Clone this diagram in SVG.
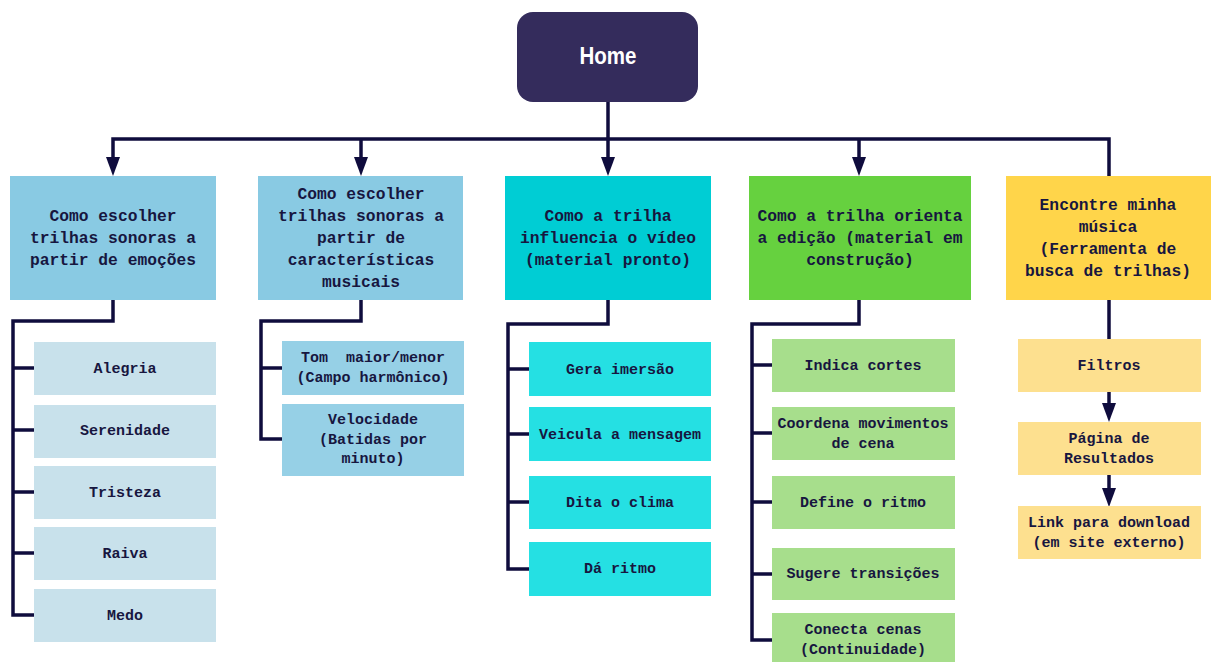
<svg xmlns="http://www.w3.org/2000/svg" width="1211" height="662" viewBox="0 0 1211 662">
<defs>
<marker id="ah" markerUnits="userSpaceOnUse" markerWidth="19" markerHeight="15" refX="0" refY="7" orient="auto">
<path d="M0,0 L19,7 L0,14 z" fill="#0f0c3d"/>
</marker>
<style>
text{font-family:"Liberation Mono","DejaVu Sans Mono",monospace;font-weight:bold;fill:#17163f;text-anchor:middle;white-space:pre}
.t1{font-size:16.3px}
.t2{font-size:15px}
.home{font-family:"Liberation Sans Narrow","Liberation Sans",sans-serif;font-size:24px;fill:#ffffff}
.c{fill:none;stroke:#0f0c3d;stroke-width:3.5;stroke-linejoin:miter}
.a{marker-end:url(#ah)}
.b1{fill:#89cae3}.b3{fill:#00cdd4}.b4{fill:#66d13f}.b5{fill:#ffd54a}
.k1{fill:#c8e1eb}.k2{fill:#96d0e6}.k3{fill:#25e0e3}.k4{fill:#a7de8c}.k5{fill:#fde08f}
</style>
</defs>
<rect width="1211" height="662" fill="#ffffff"/>
<g id="connectors">
<path class="c a" d="M1109,176 V139 H113 V157"/>
<path class="c a" d="M361,139 V157"/>
<path class="c a" d="M608,102 V157"/>
<path class="c a" d="M859,139 V157"/>
<path class="c" d="M113,300 V321 H13 V615 H34 M13,368 H34 M13,430 H34 M13,492 H34 M13,553 H34"/>
<path class="c" d="M361,300 V321 H261 V439 H282 M261,368 H282"/>
<path class="c" d="M608,300 V324 H508 V569 H529 M508,369 H529 M508,434 H529 M508,502 H529"/>
<path class="c" d="M859,300 V324 H752 V640 H772 M752,365 H772 M752,433 H772 M752,502 H772 M752,574 H772"/>
<path class="c" d="M1109,300 V339"/>
<path class="c a" d="M1109,392 V403"/>
<path class="c a" d="M1109,475 V488"/>
</g>
<g id="home">
<rect x="517" y="12" width="181" height="90" rx="16" fill="#342c5c"/>
<text class="home" x="608" y="64" textLength="57" lengthAdjust="spacingAndGlyphs">Home</text>
</g>
<g id="n1">
<rect class="b1" x="10" y="176" width="206" height="124"/>
<text class="t1" x="113"><tspan x="113" y="221">Como escolher</tspan><tspan x="113" y="243">trilhas sonoras a</tspan><tspan x="113" y="265">partir de emoções</tspan></text>
</g>
<g id="n2">
<rect class="b1" x="258" y="176" width="205" height="124"/>
<text class="t1" x="361"><tspan x="361" y="199">Como escolher</tspan><tspan x="361" y="221">trilhas sonoras a</tspan><tspan x="361" y="243">partir de</tspan><tspan x="361" y="265">características</tspan><tspan x="361" y="287">musicais</tspan></text>
</g>
<g id="n3">
<rect class="b3" x="505" y="176" width="206" height="124"/>
<text class="t1" x="608"><tspan x="608" y="221">Como a trilha</tspan><tspan x="608" y="243">influencia o vídeo</tspan><tspan x="608" y="265">(material pronto)</tspan></text>
</g>
<g id="n4">
<rect class="b4" x="749" y="176" width="222" height="124"/>
<text class="t1" x="860"><tspan x="860" y="221">Como a trilha orienta</tspan><tspan x="860" y="243">a edição (material em</tspan><tspan x="860" y="265">construção)</tspan></text>
</g>
<g id="n5">
<rect class="b5" x="1006" y="176" width="205" height="124"/>
<text class="t1" x="1108"><tspan x="1108" y="210">Encontre minha</tspan><tspan x="1108" y="232">música</tspan><tspan x="1108" y="254">(Ferramenta de</tspan><tspan x="1108" y="276">busca de trilhas)</tspan></text>
</g>
<g id="n1a"><rect class="k1" x="34" y="342" width="182" height="53"/><text class="t2" x="125" y="373">Alegria</text></g>
<g id="n1b"><rect class="k1" x="34" y="405" width="182" height="53"/><text class="t2" x="125" y="435">Serenidade</text></g>
<g id="n1c"><rect class="k1" x="34" y="466" width="182" height="53"/><text class="t2" x="125" y="497">Tristeza</text></g>
<g id="n1d"><rect class="k1" x="34" y="527" width="182" height="53"/><text class="t2" x="125" y="558">Raiva</text></g>
<g id="n1e"><rect class="k1" x="34" y="589" width="182" height="53"/><text class="t2" x="125" y="620">Medo</text></g>
<g id="n2a"><rect class="k2" x="282" y="341" width="182" height="54"/><text class="t2" x="373"><tspan x="373" y="362">Tom  maior/menor</tspan><tspan x="373" y="382">(Campo harmônico)</tspan></text></g>
<g id="n2b"><rect class="k2" x="282" y="404" width="182" height="72"/><text class="t2" x="373"><tspan x="373" y="424">Velocidade</tspan><tspan x="373" y="444">(Batidas por</tspan><tspan x="373" y="463">minuto)</tspan></text></g>
<g id="n3a"><rect class="k3" x="529" y="342" width="182" height="54"/><text class="t2" x="620" y="374">Gera imersão</text></g>
<g id="n3b"><rect class="k3" x="529" y="407" width="182" height="54"/><text class="t2" x="620" y="439">Veicula a mensagem</text></g>
<g id="n3c"><rect class="k3" x="529" y="476" width="182" height="53"/><text class="t2" x="620" y="507">Dita o clima</text></g>
<g id="n3d"><rect class="k3" x="529" y="542" width="182" height="54"/><text class="t2" x="620" y="573">Dá ritmo</text></g>
<g id="n4a"><rect class="k4" x="772" y="339" width="183" height="53"/><text class="t2" x="863" y="370">Indica cortes</text></g>
<g id="n4b"><rect class="k4" x="772" y="407" width="183" height="53"/><text class="t2" x="863"><tspan x="863" y="428">Coordena movimentos</tspan><tspan x="863" y="448">de cena</tspan></text></g>
<g id="n4c"><rect class="k4" x="772" y="476" width="183" height="53"/><text class="t2" x="863" y="507">Define o ritmo</text></g>
<g id="n4d"><rect class="k4" x="772" y="548" width="183" height="52"/><text class="t2" x="863" y="578">Sugere transições</text></g>
<g id="n4e"><rect class="k4" x="772" y="613" width="183" height="49"/><text class="t2" x="863"><tspan x="863" y="634">Conecta cenas</tspan><tspan x="863" y="654">(Continuidade)</tspan></text></g>
<g id="n5a"><rect class="k5" x="1018" y="339" width="183" height="53"/><text class="t2" x="1109" y="370">Filtros</text></g>
<g id="n5b"><rect class="k5" x="1018" y="422" width="183" height="53"/><text class="t2" x="1109"><tspan x="1109" y="443">Página de</tspan><tspan x="1109" y="463">Resultados</tspan></text></g>
<g id="n5c"><rect class="k5" x="1018" y="506" width="183" height="53"/><text class="t2" x="1109"><tspan x="1109" y="527">Link para download</tspan><tspan x="1109" y="547">(em site externo)</tspan></text></g>
</svg>
